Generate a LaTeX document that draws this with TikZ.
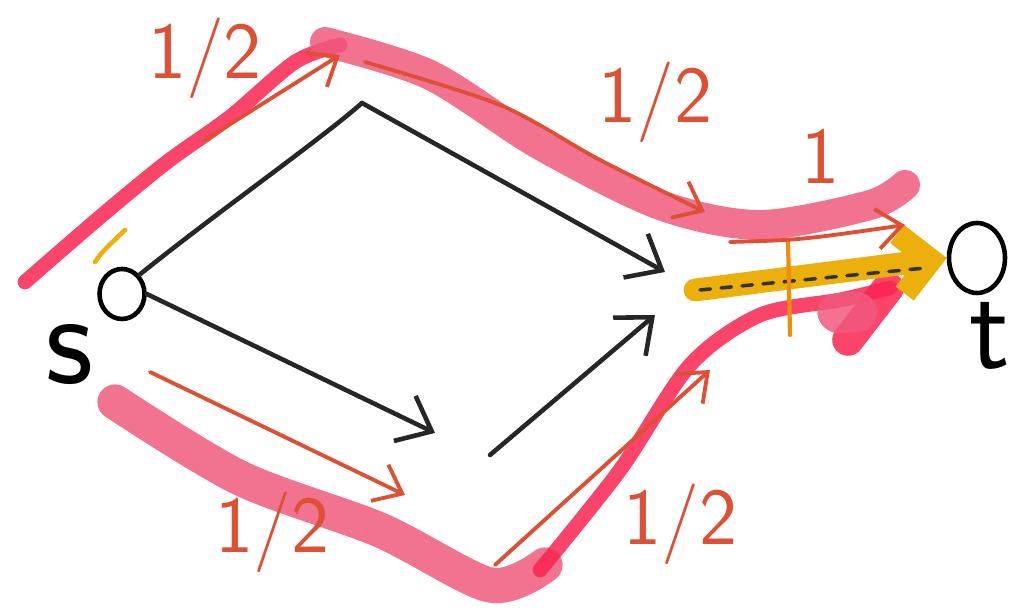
\documentclass[tikz,border=0pt]{standalone}
\usetikzlibrary{arrows.meta,shapes.geometric}
\definecolor{hilite}{RGB}{240,90,125}
\definecolor{hired}{RGB}{250,35,80}
\definecolor{flowred}{RGB}{222,80,52}
\definecolor{cutyellow}{RGB}{236,176,12}

\begin{document}
\begin{tikzpicture}[x=1cm,y=-1cm,line cap=round,line join=round,
    edge/.style={line width=1.3pt,black!85,-{Straight Barb[length=3mm,width=5mm]}},
    flow/.style={line width=1.1pt,flowred,-{Straight Barb[length=2.5mm,width=4mm]}},
    hl/.style={line width=8.5pt,hilite,opacity=0.85},
    lbl/.style={text=flowred,font=\sffamily\fontsize{23}{23}\selectfont}]
  \useasboundingbox (0,0) rectangle (10.25,6.13);

  % highlighted paths
  \draw[hl,line width=4.2pt,hired] plot[smooth] coordinates {(0.25,2.82) (1.00,2.17) (1.67,1.62) (2.30,1.17) (2.95,0.62) (3.40,0.45)};
  \draw[hl] plot[smooth] coordinates {(3.25,0.42) (4.30,0.75) (5.40,1.45) (6.60,2.05) (7.60,2.25) (8.70,2.05) (9.05,1.85)};
  \draw[hl,line width=10pt] plot[smooth] coordinates {(1.15,4.02) (2.40,4.78) (3.80,5.30) (4.90,5.85) (5.45,5.65)};
  \draw[hl,line width=4.2pt,hired] plot[smooth] coordinates {(5.40,5.70) (6.20,4.70) (6.90,3.65) (7.60,3.15) (8.40,3.00) (8.90,2.88)};
  \draw[hired,opacity=0.85,line width=9pt] (8.48,3.40) -- (8.88,2.88);
  \fill[hilite,opacity=0.85,rounded corners=6pt] (8.15,2.95) -- (8.75,2.90) -- (8.80,3.30) -- (8.20,3.35) -- cycle;

  % vertices
  \node[draw,ellipse,line width=1.3pt,minimum width=0.45cm,minimum height=0.50cm] (s) at (1.22,2.94) {};
  \node[draw,ellipse,line width=1.3pt,minimum width=0.56cm,minimum height=0.70cm] (t) at (9.77,2.58) {};
  \node[font=\sffamily\fontsize{38}{38}\selectfont] (slabel) at (0.70,3.55) {s};
  \node[font=\sffamily\fontsize{34}{34}\selectfont] (tlabel) at (9.90,3.36) {t};
  \draw[line width=1.3pt,cutyellow] (0.95,2.62) .. controls (1.02,2.52) .. (1.25,2.30);
  \coordinate (a) at (3.62,1.03);
  \coordinate (b) at (4.35,4.33);
  \coordinate (c) at (4.90,4.55);
  \coordinate (ta) at (6.65,2.72);
  \coordinate (tb) at (6.55,3.15);

  % edges
  \draw[line width=1.3pt,black!85] (s.north east) .. controls (2.20,2.10) and (3.20,1.40) .. (a);
  \draw[edge] (a) -- (ta);
  \draw[edge] (s.east) -- (b);
  \draw[edge] (c) -- (tb);

  % cut edge to t
  \draw[line width=6.5pt,cutyellow,-{Straight Barb[length=3mm,width=6mm]}] (6.95,2.90) -- (t.west);
  \draw[line width=1pt,black!80,dashed] (7.00,2.90) -- (9.25,2.68);
  \draw[line width=1.2pt,cutyellow!80!red] (7.88,2.40) -- (7.90,3.35);

  % flows
  \draw[flow] (2.05,1.40) -- (3.40,0.55);
  \draw[flow] plot[smooth] coordinates {(3.65,0.62) (5.00,1.05) (6.00,1.60) (7.05,2.12)};
  \draw[flow] (7.30,2.42) .. controls (8.00,2.40) .. (9.05,2.25);
  \draw[flow] (1.50,3.72) -- (4.05,4.95);
  \draw[flow] (4.95,5.65) -- (7.10,3.70);

  % flow values
  \node[lbl] (f1) at (2.05,0.58) {1/2};
  \node[lbl] (f2) at (6.55,1.02) {1/2};
  \node[lbl] (f3) at (8.20,1.56) {1};
  \node[lbl] (f4) at (2.72,5.32) {1/2};
  \node[lbl] (f5) at (6.80,5.24) {1/2};
\end{tikzpicture}
\end{document}
